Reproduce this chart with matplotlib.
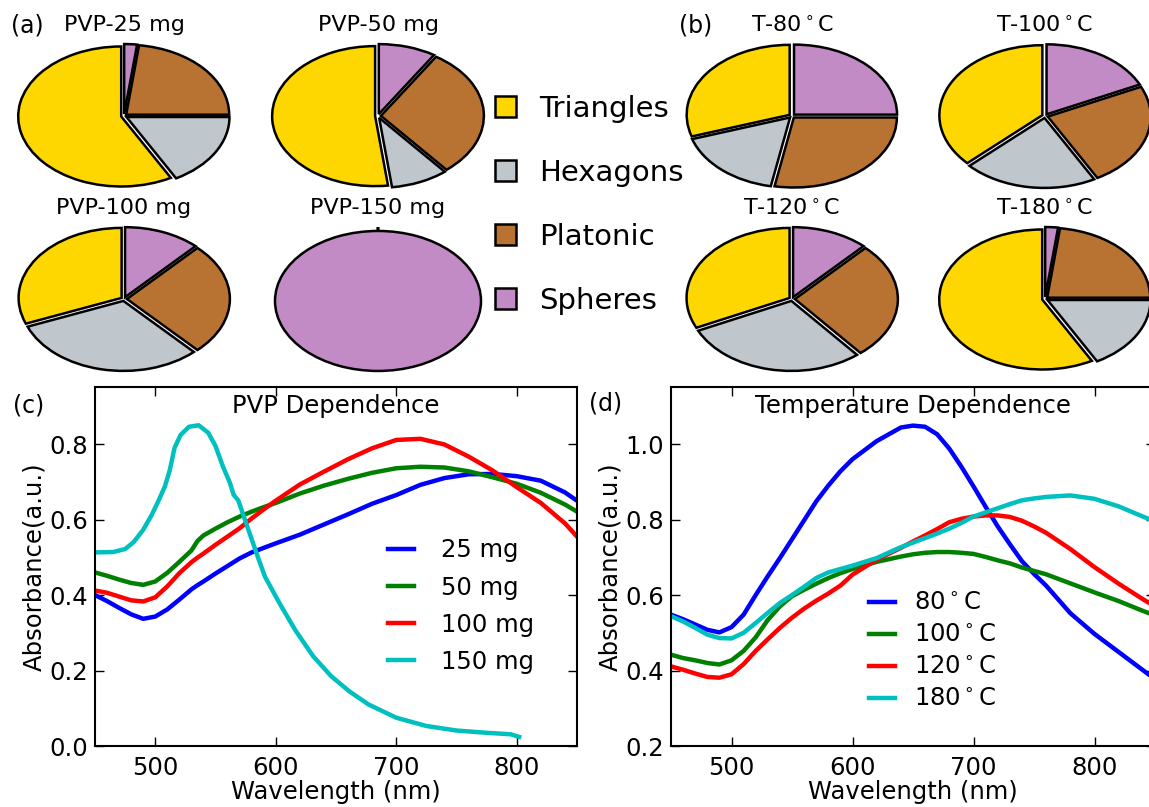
import matplotlib
matplotlib.use("Agg")
import matplotlib.pyplot as plt
from matplotlib.patches import Patch

# ---------------- data ----------------
shape_names = ["Triangles", "Hexagons", "Platonic", "Spheres"]
shape_colors = ["#FFD700", "#BFC6CC", "#B87333", "#C38BC5"]

pvp_titles = ["PVP-25 mg", "PVP-50 mg", "PVP-100 mg", "PVP-150 mg"]
pvp_25 = [58, 17, 23, 2]
pvp_50 = [52, 9, 30, 9]
pvp_100 = [31, 31, 26, 12]
pvp_150 = [0, 0, 0, 100]

temp_titles = [r"T-80$^\circ$C", r"T-100$^\circ$C", r"T-120$^\circ$C", r"T-180$^\circ$C"]
temp_80 = [30, 17, 28, 25]
temp_100 = [37, 21, 24, 18]
temp_120 = [32, 29, 27, 12]
temp_180 = [58, 17, 23, 2]

# (c) PVP dependence spectra
wl_c = [450, 460, 470, 480, 490, 500, 510, 520, 530, 535, 540, 550, 560, 570, 580,
        590, 600, 620, 640, 660, 680, 700, 720, 740, 760, 780, 800, 820, 840, 850]
abs_25mg = [0.400, 0.384, 0.366, 0.349, 0.337, 0.343, 0.362, 0.388, 0.415, 0.426, 0.436,
            0.457, 0.477, 0.497, 0.513, 0.525, 0.537, 0.560, 0.587, 0.614, 0.642, 0.665,
            0.692, 0.710, 0.720, 0.721, 0.715, 0.703, 0.672, 0.650]
abs_50mg = [0.460, 0.451, 0.441, 0.432, 0.427, 0.436, 0.459, 0.488, 0.518, 0.543, 0.558,
            0.576, 0.593, 0.608, 0.621, 0.633, 0.644, 0.669, 0.690, 0.708, 0.724, 0.736,
            0.740, 0.738, 0.728, 0.712, 0.695, 0.671, 0.640, 0.621]
abs_100mg = [0.412, 0.406, 0.396, 0.386, 0.383, 0.394, 0.423, 0.458, 0.487, 0.499, 0.510,
             0.533, 0.555, 0.577, 0.603, 0.627, 0.650, 0.693, 0.727, 0.760, 0.789, 0.811,
             0.814, 0.799, 0.767, 0.730, 0.686, 0.644, 0.590, 0.555]
wl_150mg = [450, 465, 475, 482, 490, 497, 502, 508, 512, 516, 521, 528, 536, 544, 550,
            556, 562, 565, 569, 576, 585, 591, 603, 616, 631, 646, 661, 677, 700, 725,
            750, 775, 795, 802]
abs_150mg = [0.513, 0.514, 0.522, 0.540, 0.573, 0.612, 0.645, 0.688, 0.730, 0.790, 0.824,
             0.846, 0.850, 0.830, 0.795, 0.742, 0.697, 0.666, 0.650, 0.585, 0.502, 0.449,
             0.379, 0.308, 0.238, 0.185, 0.145, 0.110, 0.075, 0.053, 0.041, 0.035, 0.031,
             0.024]
pvp_labels = ["25 mg", "50 mg", "100 mg", "150 mg"]

# (d) temperature dependence spectra
wl_d = [450, 460, 470, 480, 490, 500, 510, 520, 530, 540, 550, 560, 570, 580, 590, 600,
        620, 640, 650, 660, 670, 680, 690, 700, 710, 720, 730, 740, 750, 760, 780, 800,
        820, 840, 850]
abs_80C = [0.548, 0.536, 0.522, 0.508, 0.501, 0.515, 0.548, 0.600, 0.650, 0.698, 0.748,
           0.798, 0.848, 0.890, 0.928, 0.960, 1.008, 1.044, 1.049, 1.046, 1.026, 0.988,
           0.940, 0.888, 0.834, 0.782, 0.735, 0.690, 0.656, 0.625, 0.552, 0.497, 0.449,
           0.401, 0.377]
abs_100C = [0.442, 0.433, 0.427, 0.420, 0.416, 0.427, 0.452, 0.488, 0.534, 0.570, 0.597,
            0.614, 0.630, 0.645, 0.658, 0.669, 0.688, 0.702, 0.708, 0.712, 0.714, 0.714,
            0.712, 0.709, 0.701, 0.692, 0.684, 0.673, 0.664, 0.655, 0.631, 0.607, 0.584,
            0.558, 0.546]
abs_120C = [0.411, 0.402, 0.392, 0.383, 0.381, 0.390, 0.417, 0.452, 0.483, 0.513, 0.540,
            0.564, 0.585, 0.604, 0.625, 0.654, 0.694, 0.725, 0.742, 0.758, 0.775, 0.793,
            0.802, 0.808, 0.811, 0.811, 0.807, 0.797, 0.782, 0.765, 0.722, 0.674, 0.630,
            0.589, 0.570]
abs_180C = [0.544, 0.530, 0.513, 0.495, 0.486, 0.485, 0.500, 0.526, 0.553, 0.579, 0.600,
            0.622, 0.645, 0.660, 0.669, 0.678, 0.698, 0.727, 0.739, 0.751, 0.763, 0.776,
            0.791, 0.808, 0.819, 0.830, 0.841, 0.851, 0.856, 0.860, 0.864, 0.855, 0.835,
            0.808, 0.795]
temp_labels = [r"80$^\circ$C", r"100$^\circ$C", r"120$^\circ$C", r"180$^\circ$C"]

line_colors = ["#0000FF", "#008000", "#FF0000", "#00BFBF"]

# ---------------- figure ----------------
W, H = 1149, 807
fig = plt.figure(figsize=(W / 100, H / 100), dpi=100)
FS = 17.5


def box(left, top, width, height):
    """Figure-fraction rectangle from pixel geometry (top-left origin)."""
    return [left / W, 1 - (top + height) / H, width / W, height / H]


def fig_xy(x, y):
    return x / W, 1 - y / H


# pie charts: elliptical, exploded wedges with black outlines
RX, RY, LIM = 103, 70, 1.2


def draw_pie(cx, cy, values, title):
    w, h = 2 * LIM * RX, 2 * LIM * RY
    ax = fig.add_axes(box(cx - w / 2, cy - h / 2, w, h))
    ax.pie(values, colors=shape_colors, startangle=90, counterclock=True,
           explode=[0.028] * len(values),
           wedgeprops=dict(edgecolor="black", linewidth=1.8))
    ax.set_xlim(-LIM, LIM)
    ax.set_ylim(-LIM, LIM)
    ax.set_aspect("auto")
    ax.axis("off")
    ax.text(0, 1.30, title, ha="center", va="center", fontsize=16)


pvp_sets = [pvp_25, pvp_50, pvp_100, pvp_150]
temp_sets = [temp_80, temp_100, temp_120, temp_180]
pie_cols_a = [124, 378]
pie_cols_b = [792, 1045]
pie_rows = [116, 299]
for i in range(4):
    r, c = divmod(i, 2)
    draw_pie(pie_cols_a[c], pie_rows[r], pvp_sets[i], pvp_titles[i])
    draw_pie(pie_cols_b[c], pie_rows[r], temp_sets[i], temp_titles[i])

# shared legend for the pie charts
handles = [Patch(facecolor=col, edgecolor="black", linewidth=1.8) for col in shape_colors]
fig.legend(handles, shape_names, loc="upper left", bbox_to_anchor=fig_xy(495, 95),
           frameon=False, fontsize=21, handlelength=0.72, handleheight=0.72,
           handletextpad=0.78, labelspacing=1.23, borderpad=0, borderaxespad=0)


def style_axes(ax):
    for s in ax.spines.values():
        s.set_linewidth(1.5)
    ax.tick_params(direction="in", top=True, right=True, length=6.5, width=1,
                   labelsize=FS)
    ax.tick_params(axis="x", pad=7)
    ax.tick_params(axis="y", pad=5)
    ax.set_xlim(450, 850)
    ax.set_xticks([500, 600, 700, 800])
    ax.set_xlabel("Wavelength (nm)", fontsize=FS, labelpad=0)
    ax.set_ylabel("Absorbance(a.u.)", fontsize=FS, labelpad=2)


# (c) PVP dependence
ax_c = fig.add_axes(box(95, 387.5, 482, 358.5))
for y, col, lab in zip([abs_25mg, abs_50mg, abs_100mg], line_colors[:3], pvp_labels[:3]):
    ax_c.plot(wl_c, y, color=col, lw=3.2, label=lab)
ax_c.plot(wl_150mg, abs_150mg, color=line_colors[3], lw=3.2, label=pvp_labels[3])
style_axes(ax_c)
ax_c.set_ylim(0, 0.95)
ax_c.set_yticks([0.0, 0.2, 0.4, 0.6, 0.8])
ax_c.set_yticklabels(["0.0", "0.2", "0.4", "0.6", "0.8"])
ax_c.text(0.5, 0.948, "PVP Dependence", transform=ax_c.transAxes,
          ha="center", va="center", fontsize=FS)
ax_c.legend(loc="upper left", bbox_to_anchor=(0.607, 0.579), frameon=False,
            fontsize=FS, handlelength=1.1, handletextpad=1.08, labelspacing=0.54,
            borderpad=0, borderaxespad=0)

# (d) temperature dependence
ax_d = fig.add_axes(box(671, 387.5, 484, 358.5))
for y, col, lab in zip([abs_80C, abs_100C, abs_120C, abs_180C], line_colors, temp_labels):
    ax_d.plot(wl_d, y, color=col, lw=3.2, label=lab)
style_axes(ax_d)
ax_d.set_ylim(0.2, 1.15)
ax_d.set_yticks([0.2, 0.4, 0.6, 0.8, 1.0])
ax_d.set_yticklabels(["0.2", "0.4", "0.6", "0.8", "1.0"])
ax_d.text(0.5, 0.948, "Temperature Dependence", transform=ax_d.transAxes,
          ha="center", va="center", fontsize=FS)
ax_d.legend(loc="upper left", bbox_to_anchor=(0.409, 0.432), frameon=False,
            fontsize=FS, handlelength=1.06, handletextpad=0.8, labelspacing=0.33,
            borderpad=0, borderaxespad=0)

# panel letters
for lab, (x, y) in zip(["(a)", "(b)", "(c)", "(d)"],
                       [(27, 25), (696, 25), (29, 406), (606, 403)]):
    fig.text(*fig_xy(x, y), lab, ha="center", va="center", fontsize=17)

fig.savefig("out.png", dpi=100)
